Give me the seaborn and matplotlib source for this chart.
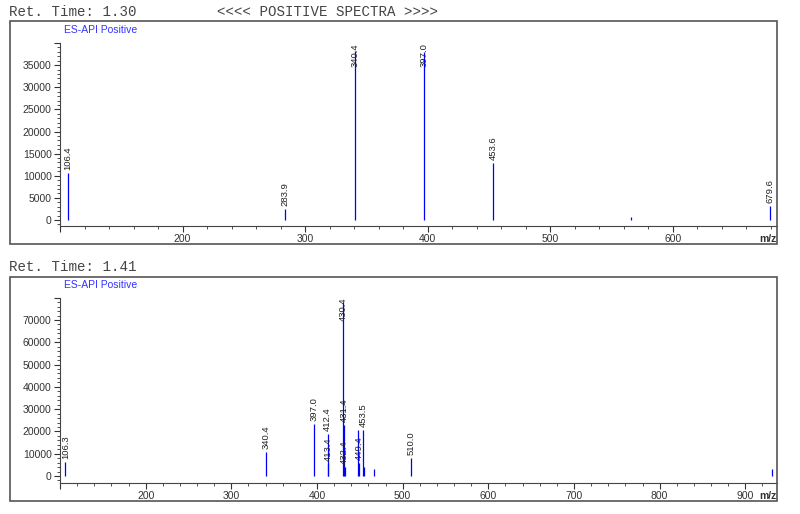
import numpy as np
import pandas as pd
import seaborn as sns
import matplotlib.pyplot as plt
from matplotlib.patches import Rectangle
from matplotlib.ticker import MultipleLocator, FuncFormatter

# spectrum 1 (Ret. Time 1.30)
mz_1 = [106.4, 283.9, 340.4, 397.0, 453.6, 565.7, 679.6]
int_1 = [10700, 2500, 38200, 38000, 12900, 700, 3200]
lab_1 = ['106.4', '283.9', '340.4', '397.0', '453.6', '', '679.6']

# spectrum 2 (Ret. Time 1.41)
mz_2 = [106.3, 340.4, 397.0, 412.4, 413.4, 430.4, 431.4, 432.4,
        448.4, 449.4, 453.5, 454.5, 467.0, 510.0, 931.0]
int_2 = [6500, 10800, 23500, 19000, 5300, 78000, 23000, 4200,
         20800, 6000, 20800, 4000, 3100, 8100, 3200]
lab_2 = ['106.3', '340.4', '397.0', '412.4', '413.4', '430.4', '431.4', '432.4',
         '', '449.4', '453.5', '', '', '510.0', '']

titles = ['Ret. Time: 1.30', 'Ret. Time: 1.41']

sns.set_theme(style='ticks')
plt.rcParams['font.family'] = ['Liberation Sans', 'DejaVu Sans']

GRAY = '#333333'
BLUE = '#0000ff'

fig = plt.figure(figsize=(8, 5.14), dpi=100)


def draw_panel(ax, mz, inten, labels, xlim, ylim, ymajor, yminor, label_ceiling):
    df = pd.DataFrame({'mz': mz, 'intensity': inten, 'label': labels})
    ax.vlines(df['mz'], 0, df['intensity'], color=BLUE, lw=0.9)
    ax.set_xlim(xlim)
    ax.set_ylim(ylim)
    sns.despine(ax=ax)
    for s in ['left', 'bottom']:
        ax.spines[s].set_color('#444444')
        ax.spines[s].set_linewidth(0.8)

    ax.xaxis.set_major_locator(MultipleLocator(100))
    ax.xaxis.set_minor_locator(MultipleLocator(20))
    ax.yaxis.set_major_locator(MultipleLocator(ymajor))
    ax.yaxis.set_minor_locator(MultipleLocator(yminor))
    ax.xaxis.set_major_formatter(FuncFormatter(lambda v, p: '' if v <= 100 else f'{v:.0f}'))
    ax.yaxis.set_major_formatter(FuncFormatter(lambda v, p: '' if v >= ylim[1] - 1 else f'{v:.0f}'))
    ax.tick_params(which='major', direction='out', length=4, width=0.8,
                   color=GRAY, labelcolor=GRAY, labelsize=7.5, pad=2)
    ax.tick_params(which='minor', direction='out', length=2.5, width=0.6, color=GRAY)
    ax.set_xlabel('')
    ax.set_ylabel('')

    # peak labels, pushed down when they would leave the panel
    for _, r in df.iterrows():
        if not r['label']:
            continue
        if r['intensity'] > label_ceiling:
            ax.text(r['mz'], ylim[1], r['label'], rotation=90, ha='center', va='top',
                    fontsize=6.8, color='#222222', clip_on=False)
        else:
            ax.annotate(r['label'], (r['mz'], r['intensity']), xytext=(0, 2),
                        textcoords='offset points', rotation=90, ha='center',
                        va='bottom', fontsize=6.8, color='#222222')

    ax.text(1.0, -0.045, 'm/z', transform=ax.transAxes, ha='right', va='top',
            fontsize=7.5, fontweight='bold', color=GRAY)
    ax.text(0.005, 1.07, 'ES-API Positive', transform=ax.transAxes, ha='left',
            va='center', fontsize=7.5, color='#3333ff')


ax1 = fig.add_axes([0.075, 0.5603, 0.89625, 0.356])
draw_panel(ax1, mz_1, int_1, lab_1, (100, 685), (-1360, 40000), 5000, 1000, 33000)

ax2 = fig.add_axes([0.075, 0.0609, 0.89625, 0.3599])
draw_panel(ax2, mz_2, int_2, lab_2, (100, 937), (-3000, 80000), 10000, 2000, 66000)

# frames around each panel
for y0, h in [(0.5253, 0.4339), (0.0253, 0.4358)]:
    fig.add_artist(Rectangle((0.0125, y0), 0.9585, h, transform=fig.transFigure,
                             fill=False, edgecolor='#555555', lw=1.2))

mono = ['Liberation Mono', 'DejaVu Sans Mono']
fig.text(0.011, 0.9767, titles[0], family=mono, fontsize=10.2, color='#444444',
         ha='left', va='center')
fig.text(0.271, 0.9767, '<<<< POSITIVE SPECTRA >>>>', family=mono, fontsize=10.2,
         color='#444444', ha='left', va='center')
fig.text(0.011, 0.4805, titles[1], family=mono, fontsize=10.2, color='#444444',
         ha='left', va='center')

fig.savefig('out.png', dpi=100)
